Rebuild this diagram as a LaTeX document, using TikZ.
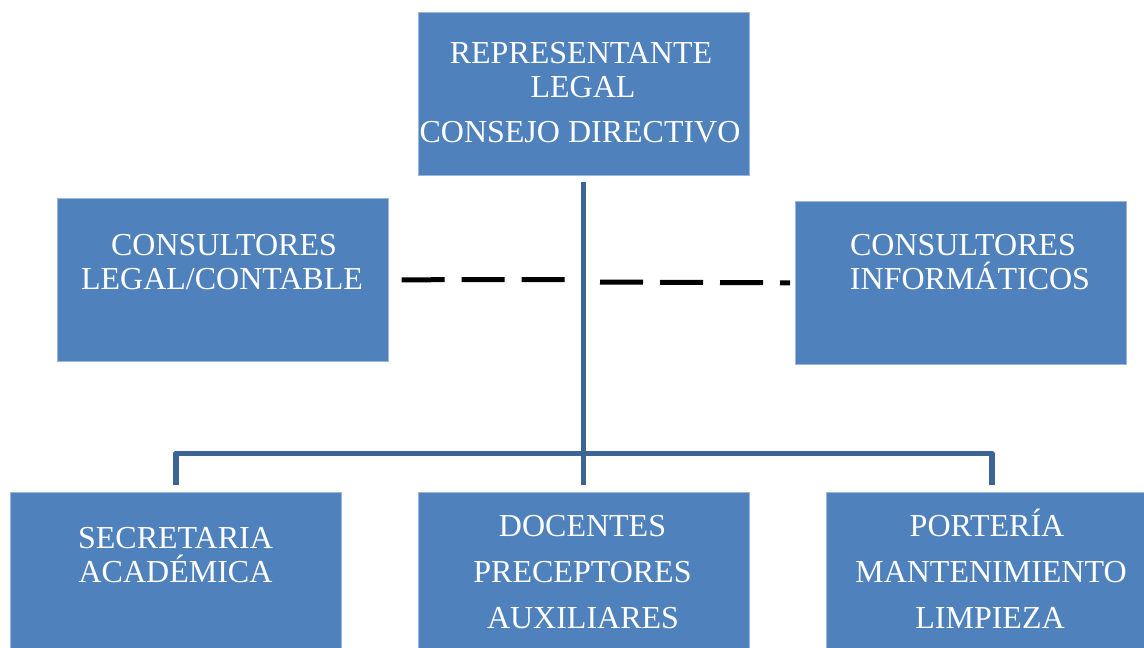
\documentclass[tikz,border=0pt]{standalone}
\usepackage{fontspec}
\setmainfont{Liberation Serif}
\definecolor{boxblue}{HTML}{4F81BD}
\definecolor{boxedge}{HTML}{9DB7DB}
\definecolor{connblue}{HTML}{3C6494}
\begin{document}
\begin{tikzpicture}[x=1pt,y=-1pt,
  orgbox/.style={rectangle,fill=boxblue,draw=boxedge,line width=0.6pt,inner sep=0pt,
    minimum width=331pt,minimum height=163pt,anchor=north west},
  txt/.style={anchor=base,text=white,inner sep=0pt,font=\fontsize{32}{34}\selectfont},
  conn/.style={draw=connblue,line width=5.5pt,line join=round},
  dashconn/.style={draw=black,line width=5pt,dash pattern=on 43pt off 17pt}]
\useasboundingbox (0,0) rectangle (1144,648);
\clip (0,0) rectangle (1144,648);
% boxes
\node[orgbox] (top) at (418,12) {};
\node[orgbox] (leg) at (57,198) {};
\node[orgbox] (inf) at (795,201) {};
\node[orgbox] (sec) at (10,492) {};
\node[orgbox] (doc) at (418,492) {};
\node[orgbox] (por) at (826,492) {};
% texts
\node[txt] (t1) at (581,63) {REPRESENTANTE};
\node[txt] (t2) at (583,97) {LEGAL};
\node[txt] (t3) at (580,142) {CONSEJO DIRECTIVO};
\node[txt] (l1) at (224,255) {CONSULTORES};
\node[txt] (l2) at (222,289) {LEGAL/CONTABLE};
\node[txt] (i1) at (963,255) {CONSULTORES};
\node[txt] (i2) at (970,289) {INFORMÁTICOS};
\node[txt] (s1) at (175.5,548) {SECRETARIA};
\node[txt] (s2) at (175.5,582) {ACADÉMICA};
\node[txt] (d1) at (582.5,536) {DOCENTES};
\node[txt] (d2) at (582.5,582) {PRECEPTORES};
\node[txt] (d3) at (583,628) {AUXILIARES};
\node[txt] (p1) at (987,536) {PORTERÍA};
\node[txt] (p2) at (991,582) {MANTENIMIENTO};
\node[txt] (p3) at (990,628) {LIMPIEZA};
% connectors
\coordinate (hb) at (583,453.5);
\coordinate (dl) at (565,279.5);
\coordinate (dr) at (600,282);
\draw[conn] ([xshift=-0.5pt,yshift=-6pt]top.south) -- ([xshift=-0.5pt,yshift=7pt]doc.north);
\draw[conn] ([yshift=7pt]sec.north) |- (hb) -| ([yshift=7pt]por.north);
\draw[dashconn] ([xshift=13pt]leg.east) -- (dl);
\draw[dashconn] (dr) -- ([xshift=-5pt]inf.west);
\end{tikzpicture}
\end{document}
